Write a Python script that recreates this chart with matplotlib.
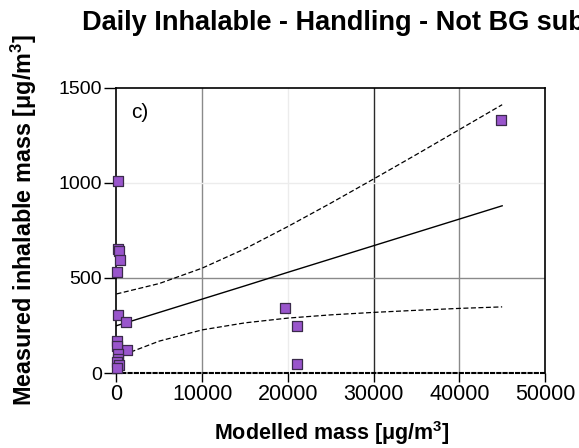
import numpy as np
import matplotlib
matplotlib.use('Agg')
import matplotlib.pyplot as plt

plt.rcParams['font.family'] = ['Liberation Sans', 'DejaVu Sans']
plt.rcParams['mathtext.fontset'] = 'custom'
plt.rcParams['mathtext.rm'] = 'Liberation Sans'
plt.rcParams['mathtext.bf'] = 'Liberation Sans:bold'
plt.rcParams['mathtext.default'] = 'bf'

# measured vs modelled mass
modelled = [44900, 19700, 21100, 21100, 230, 150, 300, 450, 100, 120, 1130,
            1200, 50, 100, 200, 150, 80, 300, 100]
measured = [1330, 342, 247, 47, 1012, 652, 640, 595, 533, 305, 267,
            121, 170, 140, 100, 75, 60, 40, 25]

# regression line and 95% confidence band
fit_x = [0, 5000, 10000, 15000, 20000, 25000, 30000, 35000, 40000, 45000]
fit_y = [249, 319, 389, 459, 530, 600, 670, 740, 810, 880]
ci_upper = [416, 471, 552, 654, 771, 894, 1021, 1150, 1281, 1412]
ci_lower = [82, 168, 227, 264, 289, 306, 319, 330, 340, 348]

x_ticks = [0, 10000, 20000, 30000, 40000, 50000]
y_ticks = [0, 500, 1000, 1500]

fig = plt.figure(figsize=(5.79, 4.48), dpi=100)
ax = fig.add_axes([0.2012, 0.1674, 0.7401, 0.6362])

# grid lines (as they appear in the reference)
for gx, gc in [(10000, '#8a8a8a'), (20000, '#ececec'), (30000, '#2a2a2a'), (40000, '#8a8a8a')]:
    ax.axvline(gx, color=gc, lw=1.0, zorder=1)
for gy, gc in [(500, '#8a8a8a'), (1000, '#ececec')]:
    ax.axhline(gy, color=gc, lw=1.0, zorder=1)

ax.plot(fit_x, fit_y, color='black', lw=1.0, zorder=2)
ax.plot(fit_x, ci_upper, color='black', lw=0.9, ls=(0, (4, 2)), zorder=2)
ax.plot(fit_x, ci_lower, color='black', lw=0.9, ls=(0, (4, 2)), zorder=2)

ax.scatter(modelled, measured, marker='s', s=60, facecolor='#9955cc',
           edgecolor='#3a2a4a', linewidth=0.9, zorder=3, clip_on=False)

ax.set_xlim(0, 50000)
ax.set_ylim(0, 1500)
ax.set_xticks(x_ticks)
ax.set_yticks(y_ticks)
ax.tick_params(axis='x', direction='out', length=6.5, width=1.0,
               labelsize=15.5, color='black', pad=1.5)
ax.tick_params(axis='y', direction='out', length=8.6, width=1.0,
               labelsize=14, color='black', pad=2)

ax.spines['bottom'].set_linestyle((0, (1.5, 1.5)))
ax.spines['bottom'].set_linewidth(1.5)
for s in ['top', 'right', 'left']:
    ax.spines[s].set_linewidth(1.2)

ax.set_xlabel('Modelled mass [μg/m$^{3}$]', fontsize=15.5, fontweight='bold',
              va='center')
ax.xaxis.set_label_coords(0.502, -0.2105)
ax.set_ylabel('Measured inhalable mass [μg/m$^{3}$]', fontsize=16.8, fontweight='bold',
              va='center')
ax.yaxis.set_label_coords(-0.217, 0.535)

ax.text(0.035, 0.915, 'c)', transform=ax.transAxes, fontsize=15, ha='left', va='center')

# title runs past the right edge, as in the reference
fig.text(82 / 579, 1 - 29.5 / 448, 'Daily Inhalable - Handling - Not BG subtracted',
         fontsize=19.5, fontweight='bold', ha='left', va='baseline')

plt.savefig('out.png', dpi=100)
plt.close()
